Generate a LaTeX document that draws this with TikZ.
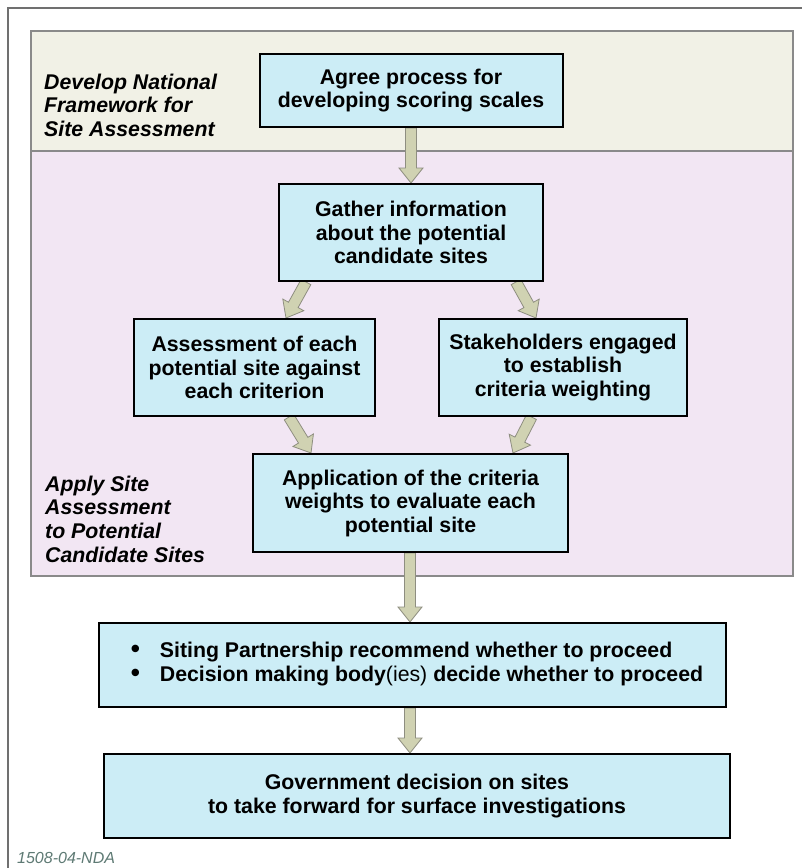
\documentclass[tikz,border=0pt]{standalone}
\usepackage{fontspec}
\setmainfont{Liberation Sans}
\usetikzlibrary{calc}
\definecolor{bandA}{HTML}{F1F1E6}
\definecolor{bandB}{HTML}{F2E6F3}
\definecolor{boxblue}{HTML}{CCEDF6}
\definecolor{arrowfill}{HTML}{D0D2B2}
\definecolor{arrowline}{HTML}{8E8E80}
\definecolor{bandline}{HTML}{8A8A8A}
\definecolor{framecol}{HTML}{707070}
\definecolor{codecol}{HTML}{5E7A74}
\pgfdeclarelayer{bg}\pgfdeclarelayer{mid}\pgfsetlayers{bg,mid,main}
\newcommand\blockarrow[2]{%
  \coordinate (baB) at ($(#2)!15pt!(#1)$);
  \draw[blockarr] ($(#1)!5.5pt!90:(#2)$) -- ($(baB)!5.5pt!90:(#2)$) -- ($(baB)!12pt!90:(#2)$) -- (#2)
     -- ($(baB)!12pt!-90:(#2)$) -- ($(baB)!5.5pt!-90:(#2)$) -- ($(#1)!5.5pt!-90:(#2)$) -- cycle;
}
\newcommand\bigbullet{{\fontsize{26}{23.5}\selectfont\textbullet}}
\begin{document}
\begin{tikzpicture}[x=1pt,y=-1pt,
  box/.style={draw=black, line width=2pt, fill=boxblue, align=center, inner sep=0pt,
    font=\fontsize{21.3}{23.5}\selectfont\bfseries},
  band/.style={draw=bandline, line width=1.5pt},
  phase/.style={anchor=west, align=left, inner sep=0pt,
    font=\fontsize{21.3}{23.6}\selectfont\bfseries\itshape},
  blockarr/.style={fill=arrowfill, draw=arrowline, line width=0.8pt, line join=miter}]
\useasboundingbox (0,0) rectangle (802,868);
\begin{pgfonlayer}{bg}
\fill[white] (0,0) rectangle (802,868);
% outer frame
\draw[framecol, line width=1.2pt] (8,868) -- (8,8) -- (802,8);
% bands
\filldraw[band, fill=bandA] (31,31) rectangle (793,151);
\filldraw[band, fill=bandB] (31,151) rectangle (793,576);
\end{pgfonlayer}
% phase labels
\node[phase] (lab1) at (44,105) {Develop National\\Framework for\\Site Assessment};
\node[phase] (lab2) at (45,519) {Apply Site\\Assessment\\to Potential\\Candidate Sites};
% boxes
\node[box, minimum width=303pt, minimum height=73pt] (agree) at (411,90.5) {Agree process for\\developing scoring scales};
\node[box, minimum width=264pt, minimum height=97pt] (gather) at (411,232.5) {Gather information\\about the potential\\candidate sites};
\node[box, minimum width=241pt, minimum height=97pt] (assess) at (254.5,367.5) {Assessment of each\\potential site against\\each criterion};
\node[box, minimum width=248pt, minimum height=97pt] (stake) at (563,367.5) {Stakeholders engaged\\to establish\\criteria weighting};
\node[box, minimum width=315pt, minimum height=98pt] (apply) at (410.5,503) {Application of the criteria\\weights to evaluate each\\potential site};
\node[box, minimum width=627pt, minimum height=84pt] (siting) at (412.5,665) {\raisebox{5pt}{\begin{tabular}{@{\hspace{9pt}}p{29pt}@{}l@{}}\bigbullet & Siting Partnership recommend whether to proceed\\ \bigbullet & Decision making body\textmd{(ies)} decide whether to proceed\end{tabular}}};
\node[box, minimum width=626pt, minimum height=84pt] (gov) at (417,796) {Government decision on sites\\to take forward for surface investigations};
\node[anchor=west, inner sep=0pt, text=codecol, font=\fontsize{16}{19}\selectfont\itshape] (code) at (17,858) {1508-04-NDA};
% arrows
\coordinate (g1) at ($(gather.south west)+(28,0)$);
\coordinate (as1) at ($(assess.north west)+(153,0)$);
\coordinate (g2) at ($(gather.south east)+(-28,0)$);
\coordinate (st1) at ($(stake.north west)+(98,0)$);
\coordinate (as2) at ($(assess.south west)+(156,0)$);
\coordinate (ap1) at ($(apply.north west)+(59,0)$);
\coordinate (st2) at ($(stake.south west)+(93.5,0)$);
\coordinate (ap2) at ($(apply.north east)+(-56,0)$);
\coordinate (v1) at ($(apply.south)+(-0.5,0)$);
\coordinate (v2) at (v1 |- siting.north);
\coordinate (v3) at (v1 |- siting.south);
\coordinate (v4) at (v1 |- gov.north);
\begin{pgfonlayer}{mid}
\blockarrow{agree.south}{gather.north}
\blockarrow{g1}{as1}
\blockarrow{g2}{st1}
\blockarrow{as2}{ap1}
\blockarrow{st2}{ap2}
\blockarrow{v1}{v2}
\blockarrow{v3}{v4}
\end{pgfonlayer}
\end{tikzpicture}
\end{document}
